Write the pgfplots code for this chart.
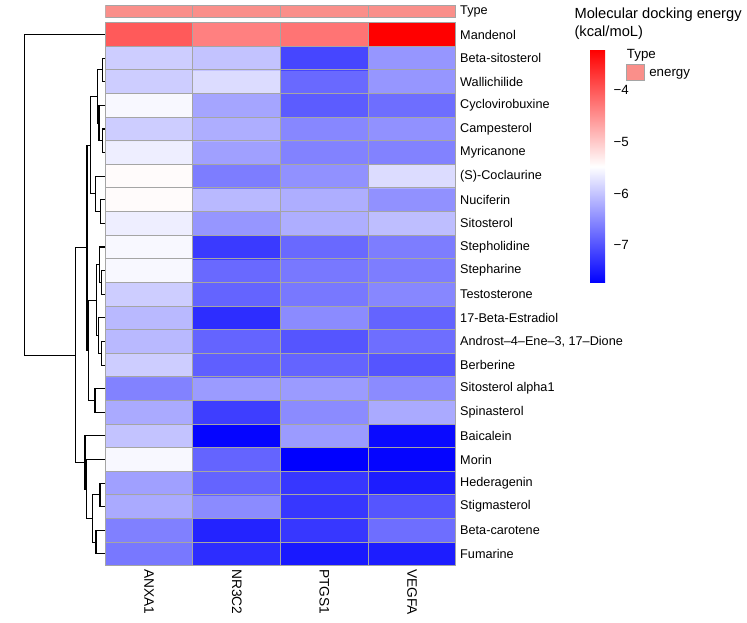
\documentclass[border=0pt]{standalone}
\usepackage{pgfplots}
\pgfplotsset{compat=1.18}
\usepackage{fontspec}
\setmainfont{Liberation Sans}
\definecolor{salmon}{RGB}{250,143,138}
\definecolor{cellgray}{RGB}{165,165,165}
\newcommand{\cl}[1]{\fontsize{10.3}{12}\selectfont #1}

\begin{document}
\begin{tikzpicture}
\useasboundingbox (0,0) rectangle (560.25pt,466.5pt);
\coordinate (cbtl) at (442.5pt,429pt);

% dendrogram
\begin{axis}[at={(0pt,42.2pt)}, anchor=south west, scale only axis,
  width=78.98pt, height=407.25pt, xmin=0, xmax=105.3, ymin=0.5, ymax=23.5,
  hide axis, clip=false, unbounded coords=jump]
\addplot[black, line width=0.8pt] coordinates {
(105.3,22) (102.3,22) (102.3,21) (105.3,21) (nan,nan)
(105.3,19) (102.3,19) (102.3,18) (105.3,18) (nan,nan)
(105.3,20) (99,20) (99,18.5) (102.3,18.5) (nan,nan)
(102.3,21.5) (97.7,21.5) (97.7,19.25) (99,19.25) (nan,nan)
(105.3,16) (100.7,16) (100.7,15) (105.3,15) (nan,nan)
(105.3,17) (95.7,17) (95.7,15.5) (100.7,15.5) (nan,nan)
(97.7,20.375) (90.3,20.375) (90.3,16.25) (95.7,16.25) (nan,nan)
(105.3,13) (101.7,13) (101.7,12) (105.3,12) (nan,nan)
(105.3,14) (99.3,14) (99.3,12.5) (101.7,12.5) (nan,nan)
(105.3,10) (101.7,10) (101.7,9) (105.3,9) (nan,nan)
(105.3,11) (98.5,11) (98.5,9.5) (101.7,9.5) (nan,nan)
(99.3,13.25) (96.7,13.25) (96.7,10.25) (98.5,10.25) (nan,nan)
(105.3,8) (95,8) (95,7) (105.3,7) (nan,nan)
(96.7,11.75) (88.7,11.75) (88.7,7.5) (95,7.5) (nan,nan)
(90.3,18.3125) (87,18.3125) (87,9.625) (88.7,9.625) (nan,nan)
(105.3,4) (100,4) (100,3) (105.3,3) (nan,nan)
(105.3,2) (96,2) (96,1) (105.3,1) (nan,nan)
(100,3.5) (92.3,3.5) (92.3,1.5) (96,1.5) (nan,nan)
(105.3,5) (86.7,5) (86.7,2.5) (92.3,2.5) (nan,nan)
(105.3,6) (85,6) (85,3.75) (86.7,3.75) (nan,nan)
(87,13.97) (75.3,13.97) (75.3,4.875) (85,4.875) (nan,nan)
(105.3,23) (24.3,23) (24.3,9.42) (75.3,9.42)
};
\end{axis}

% annotation row
\begin{axis}[at={(78.98pt,453.2pt)}, anchor=south west, scale only axis,
  width=263pt, height=9.3pt, xmin=0, xmax=4, ymin=0, ymax=1,
  axis line style={draw=none}, xtick=\empty, ytick={0.5}, yticklabels={Type},
  yticklabel pos=right, major tick length=0pt,
  yticklabel style={font=\fontsize{9.5}{11}\selectfont, anchor=west, inner xsep=0pt, xshift=3pt}]
\addplot[ybar interval, fill=salmon, draw=cellgray, line width=0.75pt] coordinates {(0,1) (1,1) (2,1) (3,1) (4,1)};
\end{axis}

% heatmap
\begin{axis}[at={(78.98pt,42.2pt)}, anchor=south west, scale only axis,
  width=263pt, height=407.25pt, xmin=0, xmax=4, ymin=0.5, ymax=23.5,
  enlargelimits=false, axis on top,
  axis line style={cellgray, line width=0.75pt},
  colormap={bwr}{rgb255=(0,0,255) rgb255=(255,255,255) rgb255=(255,0,0)},
  point meta min=-7.73, point meta max=-3.23,
  xtick={0.5,1.5,2.5,3.5}, xticklabels={\cl{ANXA1},\cl{NR3C2},\cl{PTGS1},\cl{VEGFA}},
  minor xtick={1,2,3},
  ytick={1,...,23},
  yticklabels={Fumarine,Beta-carotene,Stigmasterol,Hederagenin,Morin,Baicalein,Spinasterol,Sitosterol alpha1,Berberine,{Androst–4–Ene–3, 17–Dione},17-Beta-Estradiol,Testosterone,Stepharine,Stepholidine,Sitosterol,Nuciferin,(S)-Coclaurine,Myricanone,Campesterol,Cyclovirobuxine,Wallichilide,Beta-sitosterol,Mandenol},
  minor ytick={1.5,2.5,...,22.5},
  grid=minor, minor grid style={cellgray, line width=0.75pt},
  major tick length=0pt, minor tick length=0pt,
  yticklabel pos=right,
  yticklabel style={font=\fontsize{9.5}{11}\selectfont, anchor=west, inner xsep=0pt, xshift=3pt},
  xticklabel style={rotate=-90, anchor=west, inner xsep=2.5pt, inner ysep=0pt},
  colorbar,
  colorbar shift/.style={},
  colorbar style={at={(cbtl)}, anchor=north west, scale only axis, width=11.25pt, height=174.75pt,
    ytick={-7,-6,-5,-4}, yticklabels={−7,−6,−5,−4},
    axis line style={draw=none}, major tick length=0pt,
    yticklabel style={font=\fontsize{10}{12}\selectfont, anchor=west, inner xsep=0pt, xshift=6.2pt}},
]
\addplot[matrix plot*, mesh/cols=4, point meta=explicit] table[meta=c] {
x y c
0.5 1 -6.67
1.5 1 -7.33
2.5 1 -7.51
3.5 1 -7.47
0.5 2 -6.60
1.5 2 -7.42
2.5 2 -7.24
3.5 2 -6.76
0.5 3 -6.23
1.5 3 -6.50
2.5 3 -7.24
3.5 3 -6.98
0.5 4 -6.32
1.5 4 -6.85
2.5 4 -7.24
3.5 4 -7.47
0.5 5 -5.54
1.5 5 -6.85
2.5 5 -7.73
3.5 5 -7.69
0.5 6 -6.01
1.5 6 -7.69
2.5 6 -6.36
3.5 6 -7.64
0.5 7 -6.23
1.5 7 -7.18
2.5 7 -6.50
3.5 7 -6.23
0.5 8 -6.58
1.5 8 -6.36
2.5 8 -6.36
3.5 8 -6.50
0.5 9 -5.92
1.5 9 -6.89
2.5 9 -6.85
3.5 9 -6.98
0.5 10 -6.10
1.5 10 -6.85
2.5 10 -6.98
3.5 10 -6.76
0.5 11 -6.10
1.5 11 -7.33
2.5 11 -6.50
3.5 11 -6.85
0.5 12 -5.92
1.5 12 -6.85
2.5 12 -6.67
3.5 12 -6.54
0.5 13 -5.54
1.5 13 -6.80
2.5 13 -6.67
3.5 13 -6.63
0.5 14 -5.54
1.5 14 -7.22
2.5 14 -6.80
3.5 14 -6.63
0.5 15 -5.63
1.5 15 -6.41
2.5 15 -6.19
3.5 15 -6.05
0.5 16 -5.44
1.5 16 -6.10
2.5 16 -6.19
3.5 16 -6.45
0.5 17 -5.44
1.5 17 -6.63
2.5 17 -6.45
3.5 17 -5.79
0.5 18 -5.63
1.5 18 -6.32
2.5 18 -6.58
3.5 18 -6.58
0.5 19 -5.92
1.5 19 -6.19
2.5 19 -6.54
3.5 19 -6.45
0.5 20 -5.54
1.5 20 -6.27
2.5 20 -6.92
3.5 20 -6.76
0.5 21 -5.92
1.5 21 -5.79
2.5 21 -6.80
3.5 21 -6.41
0.5 22 -5.92
1.5 22 -6.01
2.5 22 -7.11
3.5 22 -6.41
0.5 23 -4.02
1.5 23 -4.36
2.5 23 -4.25
3.5 23 -3.23
};
\end{axis}

% legend texts
\node[anchor=base west, inner sep=0pt, font=\fontsize{11}{13}\selectfont] at (430.7pt,452.6pt) {Molecular docking energy};
\node[anchor=base west, inner sep=0pt, font=\fontsize{11}{13}\selectfont] at (430.7pt,438.8pt) {(kcal/moL)};
\node[anchor=base west, inner sep=0pt, font=\fontsize{10}{12}\selectfont] at (470pt,422.9pt) {Type};
\draw[fill=salmon, draw=cellgray, line width=0.75pt] (470pt,405.75pt) rectangle (483.2pt,418.3pt);
\node[anchor=base west, inner sep=0pt, font=\fontsize{10}{12}\selectfont] at (486.75pt,409.3pt) {energy};
\end{tikzpicture}
\end{document}
